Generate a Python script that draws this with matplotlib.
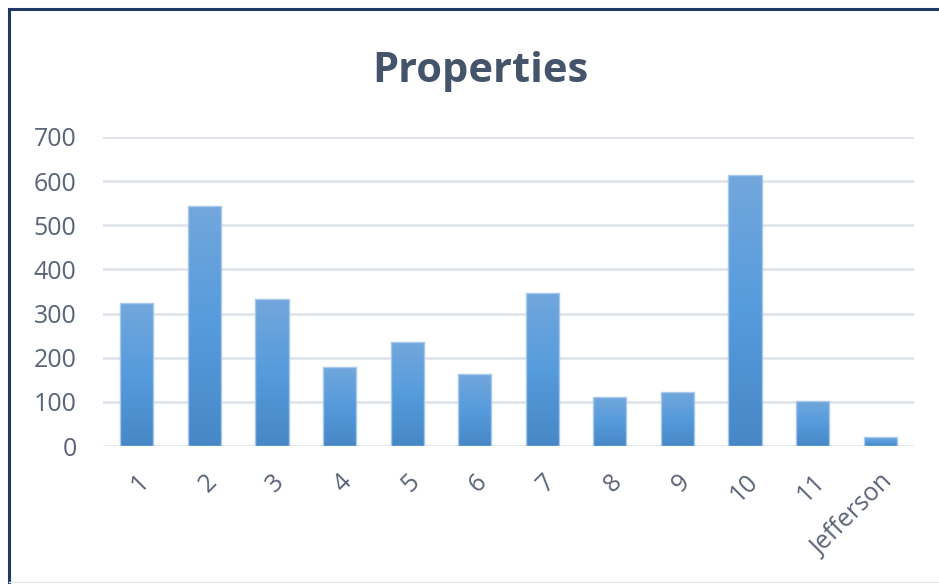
import numpy as np
import matplotlib.pyplot as plt
from matplotlib.colors import LinearSegmentedColormap
from matplotlib.lines import Line2D

# data
categories = ['1', '2', '3', '4', '5', '6', '7', '8', '9', '10', '11', 'Jefferson']
values = [323, 544, 332, 180, 235, 163, 347, 111, 122, 614, 103, 20]
yticks = [0, 100, 200, 300, 400, 500, 600, 700]

plt.rcParams['font.family'] = ['Open Sans', 'DejaVu Sans']

fig = plt.figure(figsize=(9.39, 5.84), dpi=100)
ax = fig.add_axes([103/939, 1-446/584, (914-103)/939, (446-137)/584])

x = np.arange(len(categories))
bars = ax.bar(x, values, width=0.49, color='none', edgecolor='#A6C8EA', linewidth=1.0, zorder=3)

# vertical gradient for each bar (lighter on top, darker at the base)
cmap = LinearSegmentedColormap.from_list('excel', ['#4787C6', '#569BDC', '#72A7DC'])
grad = np.linspace(0, 1, 256).reshape(-1, 1)
for b in bars:
    x0, w, h = b.get_x(), b.get_width(), b.get_height()
    im = ax.imshow(grad, cmap=cmap, aspect='auto', origin='lower',
                   extent=[x0, x0 + w, 0, h], zorder=2)
    im.set_clip_path(b)

ax.set_xlim(-0.5, len(categories) - 0.5)
ax.set_ylim(0, 700)
ax.set_yticks(yticks)
ax.yaxis.grid(True, color='#DCE1EA', linewidth=1.8)
ax.set_axisbelow(True)
for s in ax.spines.values():
    s.set_visible(False)
ax.tick_params(length=0)
ax.tick_params(axis='y', labelsize=18, labelcolor='#5A6478', pad=19)

ax.set_xticks(x)
ax.set_xticklabels(categories, rotation=45, ha='right', va='top',
                   rotation_mode='anchor', fontsize=18, color='#5A6478')
ax.tick_params(axis='x', pad=17)

fig.text(480/939, 1-71/584, 'Properties', ha='center', va='center',
         fontsize=30, fontweight='bold', color='#44546A')

# chart frame (navy on top and left, faint at the bottom)
fig.add_artist(Line2D([9/939, 1], [1-9/584, 1-9/584], color='#1F3864', linewidth=2.2))
fig.add_artist(Line2D([9/939, 9/939], [0, 1-9/584], color='#1F3864', linewidth=2.2))
fig.add_artist(Line2D([9/939, 1], [2/584, 2/584], color='#E6E6E6', linewidth=1))

fig.savefig('out.png', dpi=100)
